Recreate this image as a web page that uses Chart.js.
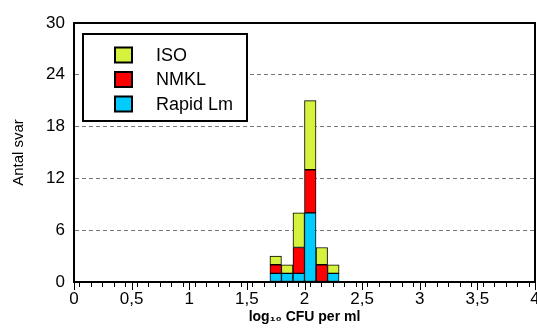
<!DOCTYPE html>
<html><head><meta charset="utf-8">
<script src="https://cdn.jsdelivr.net/npm/chart.js@4/dist/chart.umd.min.js"></script>
<style>html,body{margin:0;padding:0;background:#fff;overflow:hidden}</style>
</head><body>
<canvas id="c" width="537" height="329"></canvas>
<script>
// ---- data ----
const binCenters = [1.75, 1.85, 1.95, 2.05, 2.15, 2.25];
const isoCounts = [1, 1, 4, 8, 2, 1];
const nmklCounts = [1, 0, 3, 5, 2, 0];
const rapidCounts = [1, 1, 1, 8, 0, 1];
const seriesNames = ['ISO', 'NMKL', 'Rapid Lm'];
const seriesColors = ['#d6f23c', '#ff0000', '#00ccff'];
const xMajorTicks = [0, 0.5, 1, 1.5, 2, 2.5, 3, 3.5, 4];
const xMajorLabels = ['0', '0,5', '1', '1,5', '2', '2,5', '3', '3,5', '4'];
const yTicks = [0, 6, 12, 18, 24, 30];
const xTitle = 'log\u2081\u2080 CFU per ml';
const yTitle = 'Antal svar';

function pts(counts) {
  return binCenters.map((x, i) => ({x: x, y: counts[i]})).filter(p => p.y > 0);
}

const FONT = "'Liberation Sans', Arial, sans-serif";

const framePlugin = {
  id: 'frame',
  afterDraw(chart) {
    const ctx = chart.ctx, ca = chart.chartArea;
    const xs = chart.scales.x;
    ctx.save();
    // major ticks (longer)
    ctx.strokeStyle = '#000';
    ctx.lineWidth = 1;
    xMajorTicks.forEach(v => {
      const px = Math.round(xs.getPixelForValue(v)) + 0.5;
      ctx.beginPath();
      ctx.moveTo(px, ca.bottom);
      ctx.lineTo(px, ca.bottom + 8);
      ctx.stroke();
    });
    // frame
    ctx.lineWidth = 2;
    ctx.strokeRect(ca.left, ca.top, ca.right - ca.left, ca.bottom - ca.top);
    // legend
    const bx = ca.left + 9, by = ca.top + 11, bw = 164, bh = 87;
    ctx.fillStyle = '#fff';
    ctx.fillRect(bx, by, bw, bh);
    ctx.strokeRect(bx, by, bw, bh);
    ctx.font = '18px ' + FONT;
    ctx.textBaseline = 'middle';
    ctx.textAlign = 'left';
    for (let i = 0; i < seriesNames.length; i++) {
      const cy = by + 21 + i * 24.5;
      ctx.fillStyle = seriesColors[i];
      ctx.fillRect(bx + 32, cy - 7.5, 17, 15);
      ctx.lineWidth = 2;
      ctx.strokeStyle = '#000';
      ctx.strokeRect(bx + 32, cy - 7.5, 17, 15);
      ctx.fillStyle = '#000';
      ctx.fillText(seriesNames[i], bx + 73, cy + 1);
    }
    ctx.restore();
  }
};

new Chart(document.getElementById('c'), {
  type: 'bar',
  data: {
    datasets: [
      {label: seriesNames[2], data: pts(rapidCounts), backgroundColor: seriesColors[2]},
      {label: seriesNames[1], data: pts(nmklCounts), backgroundColor: seriesColors[1]},
      {label: seriesNames[0], data: pts(isoCounts), backgroundColor: seriesColors[0]}
    ].map(d => Object.assign(d, {borderColor: '#000', borderWidth: 1, borderSkipped: false,
                                 barPercentage: 1, categoryPercentage: 1}))
  },
  options: {
    responsive: false,
    animation: false,
    layout: {padding: {top: 23, right: 2, left: 0, bottom: 0}},
    plugins: {legend: {display: false}, tooltip: {enabled: false}},
    scales: {
      x: {
        type: 'linear', min: 0, max: 4, stacked: true, offset: false,
        ticks: {
          stepSize: 0.1, autoSkip: false, maxRotation: 0, minRotation: 0,
          color: '#000', font: {size: 17, family: FONT}, padding: 2,
          callback: (v) => {
            const k = xMajorTicks.findIndex(t => Math.abs(t - v) < 1e-6);
            return k >= 0 ? xMajorLabels[k] : '';
          }
        },
        grid: {drawOnChartArea: false, drawTicks: true, tickLength: 5, color: '#000', tickColor: '#000'},
        border: {color: '#000', width: 2},
        title: {display: true, text: xTitle, color: '#000', font: {size: 14, weight: 'bold', family: FONT}, padding: {top: 0, bottom: 3}},
        afterFit(s) { s.height = 47; s.paddingLeft = 0; s.paddingRight = 0; }
      },
      y: {
        min: 0, max: 30, stacked: true,
        afterBuildTicks(s) { s.ticks = yTicks.map(v => ({value: v})); },
        ticks: {color: '#000', font: {size: 17, family: FONT}, padding: 9},
        grid: {
          drawTicks: false,
          color: (c) => (c.tick && (c.tick.value === 0 || c.tick.value === 30)) ? 'rgba(0,0,0,0)' : '#777',
          lineWidth: 1
        },
        border: {color: '#000', width: 2, dash: [4, 3]},
        title: {display: true, text: yTitle, color: '#000', font: {size: 15, family: FONT}, padding: {top: 10, bottom: 0}},
        afterFit(s) { s.width = 74; s.paddingTop = 0; s.paddingBottom = 0; }
      }
    }
  },
  plugins: [framePlugin]
});
</script>
</body></html>
